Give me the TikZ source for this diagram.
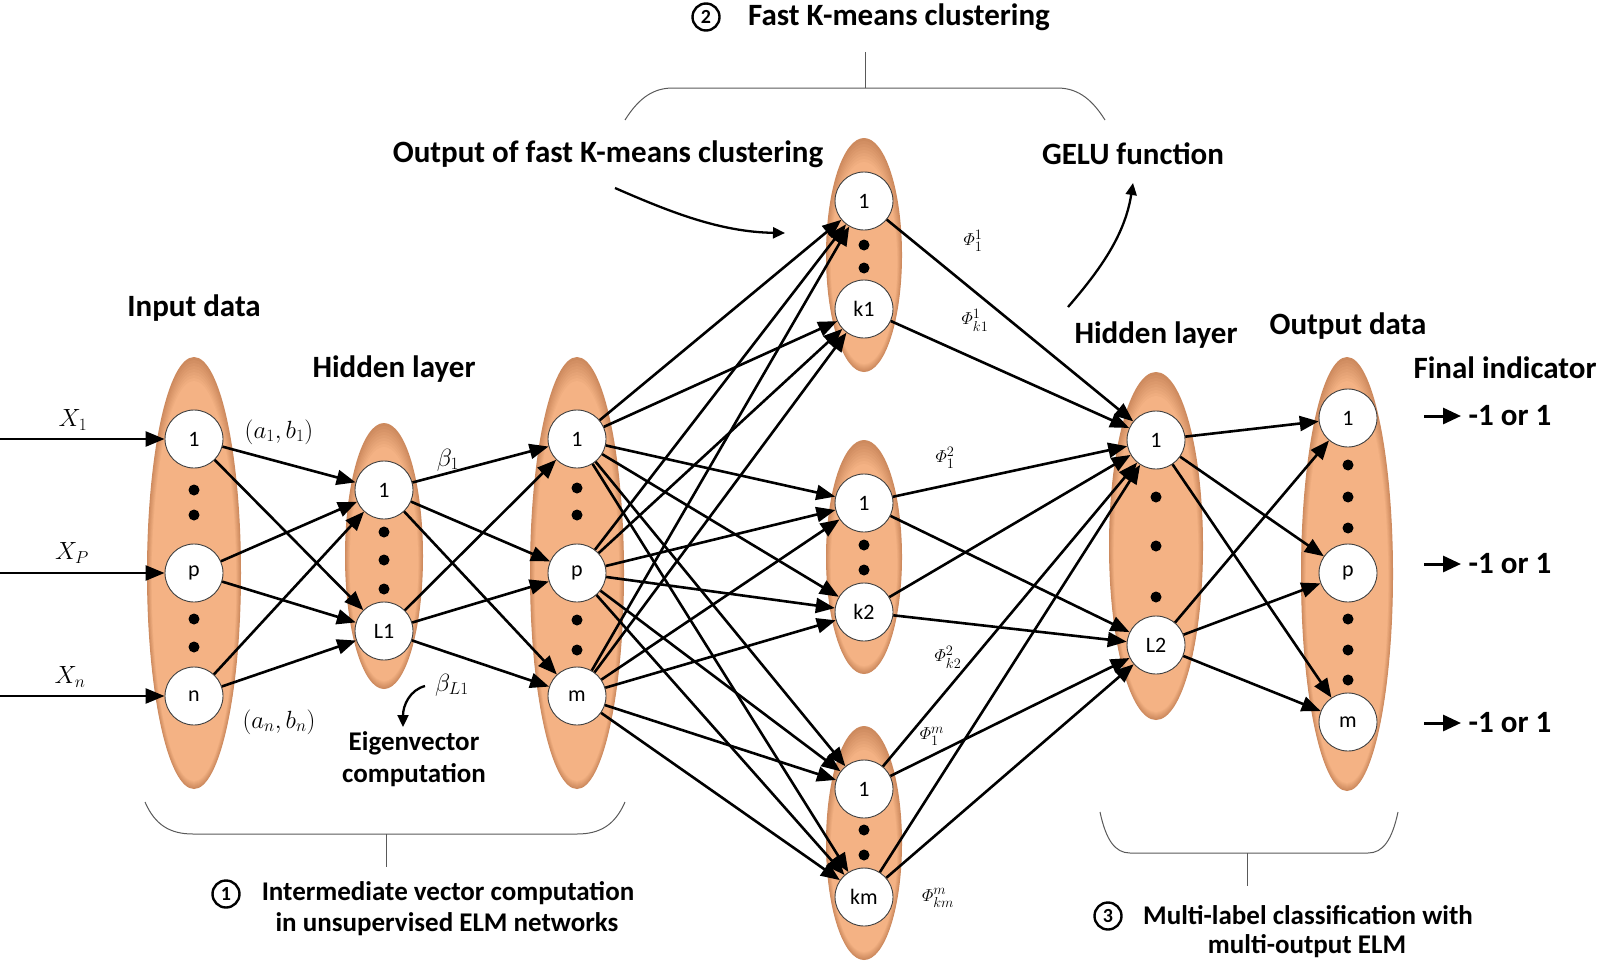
\documentclass[tikz,border=0pt]{standalone}
\usepackage{amsmath}
\usepackage{fontspec}
\setmainfont{Carlito}
\usetikzlibrary{arrows.meta}
\definecolor{peachA}{RGB}{244,178,132}
\definecolor{peachC}{RGB}{205,138,94}
\newcommand{\layerell}[4]{%
  \foreach \i in {0,...,8}{%
    \pgfmathsetmacro{\pct}{\i*12.5}%
    \fill[peachA!\pct!peachC] (#1,#2+\i) ellipse [x radius=#3-0.6*\i, y radius=#4-2*\i];
  }}
\begin{document}
\begin{tikzpicture}[x=1pt,y=-1pt,
  conn/.style={line width=2.6pt, -{Triangle[length=19pt,width=15pt]}},
  thinarrow/.style={line width=2.3pt, -{Triangle[length=12pt,width=11pt]}},
  finarrow/.style={line width=3pt, -{Triangle[length=18pt,width=16pt]}},
  neuron/.style={circle, draw=black!75, line width=0.9pt, fill=white, minimum size=58pt, inner sep=0pt, font=\fontsize{22}{24}\selectfont},
  lab/.style={font=\bfseries\fontsize{31}{33}\selectfont, inner sep=0pt, align=center},
  slab/.style={font=\bfseries\fontsize{27}{32}\selectfont, inner sep=0pt, align=center},
  mlab/.style={font=\fontsize{23}{25}\selectfont, inner sep=0pt},
  plab/.style={font=\fontsize{19}{21}\selectfont, inner sep=0pt},
  bracel/.style={draw=black!65, line width=1pt},
  cnum/.style={circle, draw, line width=2.4pt, minimum size=27pt, inner sep=0pt, font=\bfseries\fontsize{20}{21}\selectfont}
]
\useasboundingbox (0,0) rectangle (1600,961);

% layer ellipses
\layerell{194}{573}{47}{216}
\layerell{384}{556}{39}{133}
\layerell{577}{573}{47}{216}
\layerell{864}{255}{38}{117}
\layerell{864}{557}{38}{117}
\layerell{864}{843}{38}{117}
\layerell{1156}{546}{47}{174}
\layerell{1347}{574}{46}{217}

% dots
\foreach \y in {490,515,619,647} \fill (194,\y) circle (5.5);
\foreach \y in {532,560,589} \fill (384,\y) circle (5.5);
\foreach \y in {488,515,620,650} \fill (577,\y) circle (5.5);
\foreach \y in {245,268} \fill (864,\y) circle (5.5);
\foreach \y in {545,570} \fill (864,\y) circle (5.5);
\foreach \y in {830,855} \fill (864,\y) circle (5.5);
\foreach \y in {497,546,597} \fill (1156,\y) circle (5.5);
\foreach \y in {465,497,528,619,650,680} \fill (1348,\y) circle (5.5);

% neurons
\node[neuron] (i1) at (194,439) {1};
\node[neuron] (ip) at (194,573) {p};
\node[neuron] (in) at (194,696) {n};
\node[neuron] (h1) at (384,490) {1};
\node[neuron] (hL) at (384,631) {L1};
\node[neuron] (m1) at (577,439) {1};
\node[neuron] (mp) at (577,573) {p};
\node[neuron] (mm) at (577,696) {m};
\node[neuron] (a1) at (864,201) {1};
\node[neuron] (ak) at (864,309) {k1};
\node[neuron] (b1) at (864,503) {1};
\node[neuron] (bk) at (864,612) {k2};
\node[neuron] (c1) at (864,789) {1};
\node[neuron] (ck) at (864,897) {km};
\node[neuron] (g1) at (1156,440) {1};
\node[neuron] (gL) at (1156,645) {L2};
\node[neuron] (o1) at (1348,418) {1};
\node[neuron] (op) at (1348,573) {p};
\node[neuron] (om) at (1348,722) {m};

% inputs
\coordinate (x1) at (0,439);
\coordinate (xp) at (0,573);
\coordinate (xn) at (0,696);
\draw[conn] (x1) -- (i1);
\draw[conn] (xp) -- (ip);
\draw[conn] (xn) -- (in);

% input -> hidden 1
\foreach \s in {i1,ip,in} \foreach \t in {h1,hL} \draw[conn] (\s) -- (\t);
% hidden 1 -> middle
\foreach \s in {h1,hL} \foreach \t in {m1,mp,mm} \draw[conn] (\s) -- (\t);
% middle -> clusters
\foreach \s in {m1,mp,mm} \foreach \t in {a1,ak,b1,bk,c1,ck} \draw[conn] (\s) -- (\t);
% clusters -> hidden 2
\draw[conn] (a1) -- (g1);
\draw[conn] (ak) -- (g1);
\foreach \s in {b1,bk,c1,ck} \foreach \t in {g1,gL} \draw[conn] (\s) -- (\t);
% hidden 2 -> output
\foreach \s in {g1,gL} \foreach \t in {o1,op,om} \draw[conn] (\s) -- (\t);

% final indicator arrows
\coordinate (f1s) at (1424,416); \coordinate (f1e) at (1461,416);
\coordinate (f2s) at (1424,564); \coordinate (f2e) at (1461,564);
\coordinate (f3s) at (1424,723); \coordinate (f3e) at (1461,723);
\draw[finarrow] (f1s) -- (f1e);
\draw[finarrow] (f2s) -- (f2e);
\draw[finarrow] (f3s) -- (f3e);
\node[lab] (r1) at (1510,416) {-1 or 1};
\node[lab] (r2) at (1510,564) {-1 or 1};
\node[lab] (r3) at (1510,723) {-1 or 1};

% math labels
\node[mlab] (lx1) at (73,420) {$X_1$};
\node[mlab] (lxp) at (72,553) {$X_P$};
\node[mlab] (lxn) at (70,677) {$X_n$};
\node[mlab] (lab1) at (279,432) {$(a_1,b_1)$};
\node[mlab] (labn) at (279,722) {$(a_n,b_n)$};
\node[mlab] (lb1) at (448,460) {$\beta_1$};
\node[mlab] (lbL) at (452,685) {$\beta_{L1}$};
\node[plab] (p11) at (973,241) {$\varPhi_1^1$};
\node[plab] (pk1) at (975,320) {$\varPhi_{k1}^1$};
\node[plab] (p12) at (945,458) {$\varPhi_1^2$};
\node[plab] (pk2) at (948,657) {$\varPhi_{k2}^2$};
\node[plab] (p1m) at (932,736) {$\varPhi_1^m$};
\node[plab] (pkm) at (938,898) {$\varPhi_{km}^m$};

% text labels
\node[lab] (tin) at (194,308) {Input data};
\node[lab] (thl1) at (394,369) {Hidden layer};
\node[slab] (teig) at (414,759) {Eigenvector\\computation};
\node[lab] (tofk) at (608,154) {Output of fast K-means clustering};
\node[lab] (tgelu) at (1133,154) {GELU function};
\node[lab] (thl2) at (1156,335) {Hidden layer};
\node[lab] (tod) at (1348,326) {Output data};
\node[lab] (tfi) at (1505,368) {Final indicator};

% curved annotation arrows
\coordinate (eigs) at (425,686); \coordinate (eige) at (403,727);
\draw[thinarrow] (eigs) .. controls (410,690) and (403,705) .. (eige);
\coordinate (ofs) at (615,188); \coordinate (ofe) at (785,233);
\draw[thinarrow] (ofs) .. controls (670,212) and (720,232) .. (ofe);
\coordinate (ges) at (1068,307); \coordinate (gee) at (1133,183);
\draw[thinarrow] (ges) .. controls (1100,270) and (1125,235) .. (gee);

% brace 2 (top)
\draw[bracel] (625,120) .. controls (640,96) and (655,88) .. (673,88) -- (1057,88) .. controls (1075,88) and (1090,96) .. (1105,120);
\draw[bracel] (865,88) -- (865,52);
\node[cnum] (n2) at (706,17) {2};
\node[lab] (tfast) at (899,17) {Fast K-means clustering};

% brace 1 (bottom left)
\draw[bracel] (145,802) .. controls (155,825) and (170,834) .. (193,834) -- (577,834) .. controls (600,834) and (615,825) .. (625,802);
\draw[bracel] (386,834) -- (386,867);
\node[cnum] (n1) at (226,894) {1};
\node[slab] (tiv1) at (448,893) {Intermediate vector computation};
\node[slab] (tiv2) at (447,924) {in unsupervised ELM networks};

% brace 3 (bottom right)
\draw[bracel] (1100,812) .. controls (1106,840) and (1115,853) .. (1130,853) -- (1368,853) .. controls (1383,853) and (1392,840) .. (1398,812);
\draw[bracel] (1247,853) -- (1247,886);
\node[cnum] (n3) at (1108,916) {3};
\node[slab] (tml1) at (1308,915) {Multi-label classification with};
\node[slab] (tml2) at (1307,946) {multi-output ELM};
\end{tikzpicture}
\end{document}
